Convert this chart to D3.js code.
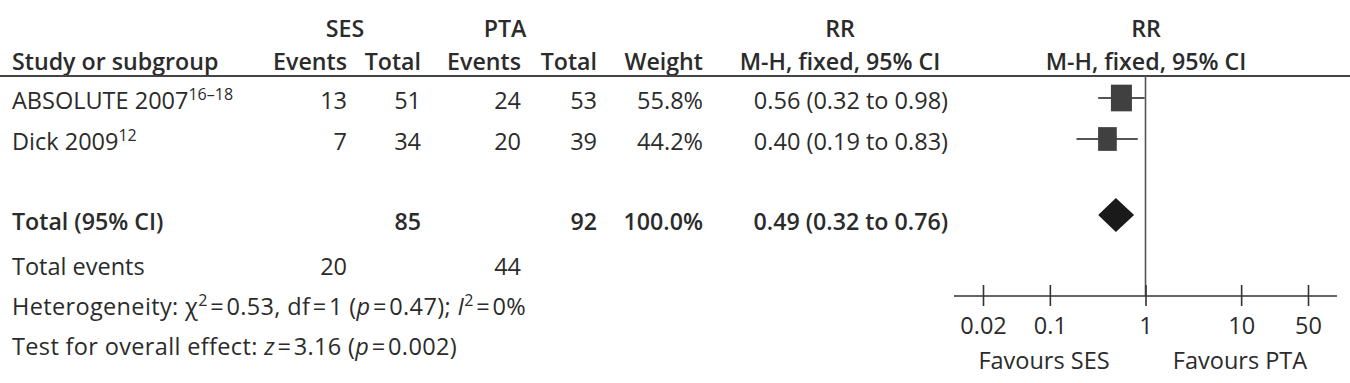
<!DOCTYPE html>
<html><head><meta charset="utf-8">
<script src="https://cdn.jsdelivr.net/npm/d3@7"></script>
<style>
html,body{margin:0;padding:0;background:#fff;}
text{font-family:"Open Sans",sans-serif;fill:#2b2b2b;}
</style></head>
<body><svg id="c" width="1350" height="383"></svg>
<script>
const studies = ["ABSOLUTE 2007", "Dick 2009"];
const refs = ["16\u201318", "12"];
const sesEvents = [13, 7];
const sesTotal = [51, 34];
const ptaEvents = [24, 20];
const ptaTotal = [53, 39];
const weights = [55.8, 44.2];
const rr = [0.56, 0.40];
const rrLo = [0.32, 0.19];
const rrHi = [0.98, 0.83];
const totalLabel = "Total (95% CI)";
const totalSes = 85, totalPta = 92, totalWeight = 100.0;
const totalRR = 0.49, totalLo = 0.32, totalHi = 0.76;
const totalEventsSes = 20, totalEventsPta = 44;
const tickValues = [0.02, 0.1, 1, 10, 50];
const tickLabels = ["0.02", "0.1", "1", "10", "50"];

const svg = d3.select("#c");
const FS = 23.5, FSB = 23.2, SUP = 16;
const x = d3.scaleLog().domain([0.02, 50]).range([983, 1308]);
const colR = {sesE: 347, sesT: 421, ptaE: 521, ptaT: 597, w: 703, rr: 948};
const rowY = [109, 150];
const totalY = 230;

function t(xp, y, s, anchor, bold) {
  return svg.append("text").attr("x", xp).attr("y", y).attr("font-size", bold ? FSB : FS)
    .attr("text-anchor", anchor || "start").attr("font-weight", bold ? 600 : 400).text(s);
}
// headers
t(345, 37, "SES", "middle", true);
t(505, 37, "PTA", "middle", true);
t(840, 37, "RR", "middle", true);
t(1146, 37, "RR", "middle", true);
t(12, 70, "Study or subgroup", "start", true);
t(colR.sesE, 70, "Events", "end", true);
t(colR.sesT, 70, "Total", "end", true);
t(colR.ptaE, 70, "Events", "end", true);
t(colR.ptaT, 70, "Total", "end", true);
t(colR.w, 70, "Weight", "end", true);
t(840, 70, "M-H, fixed, 95% CI", "middle", true);
t(1146, 70, "M-H, fixed, 95% CI", "middle", true);
svg.append("line").attr("x1", 0).attr("x2", 1350).attr("y1", 76).attr("y2", 76)
  .attr("stroke", "#444").attr("stroke-width", 2);

const f2 = d3.format(".2f");
studies.forEach((s, i) => {
  const y = rowY[i];
  const tx = t(12, y, s);
  tx.append("tspan").attr("dy", -9).attr("font-size", SUP).text(refs[i]);
  t(colR.sesE, y, sesEvents[i], "end");
  t(colR.sesT, y, sesTotal[i], "end");
  t(colR.ptaE, y, ptaEvents[i], "end");
  t(colR.ptaT, y, ptaTotal[i], "end");
  t(colR.w, y, weights[i].toFixed(1) + "%", "end");
  t(colR.rr, y, `${f2(rr[i])} (${f2(rrLo[i])} to ${f2(rrHi[i])})`, "end");
});
t(12, totalY, totalLabel, "start", true);
t(colR.sesT, totalY, totalSes, "end", true);
t(colR.ptaT, totalY, totalPta, "end", true);
t(colR.w, totalY, totalWeight.toFixed(1) + "%", "end", true);
t(colR.rr, totalY, `${f2(totalRR)} (${f2(totalLo)} to ${f2(totalHi)})`, "end", true);

t(12, 275, "Total events");
t(colR.sesE, 275, totalEventsSes, "end");
t(colR.ptaE, 275, totalEventsPta, "end");

// segments: [text, flags]  flags: i = italic, s = superscript, e = space around (equals sign)
function rich(y, segs) {
  const el = t(12, y, "").attr("letter-spacing", 0.35);
  let cur = 0, pendDx = 0;
  segs.forEach(([s, f = ""]) => {
    const want = f.includes("s") ? -9 : 0;
    const sp = el.append("tspan").text(s);
    if (want !== cur) { sp.attr("dy", want - cur); cur = want; }
    let dx = pendDx; pendDx = 0;
    if (f.includes("e")) { dx += 2.5; pendDx = 2.5; }
    if (dx) sp.attr("dx", dx);
    if (f.includes("i")) sp.attr("font-style", "italic");
    if (f.includes("s")) sp.attr("font-size", SUP);
  });
  return el;
}
rich(315, [["Heterogeneity: \u03C7"], ["2", "s"], ["=", "e"], ["0.53, df"], ["=", "e"], ["1 ("], ["p", "i"], ["=", "e"], ["0.47); "], ["I", "i"], ["2", "s"], ["=", "e"], ["0%"]]);
rich(355, [["Test for overall effect: "], ["z", "i"], ["=", "e"], ["3.16 ("], ["p", "i"], ["=", "e"], ["0.002)"]]);

// forest plot
const axisY = 296;
svg.append("line").attr("x1", x(1)).attr("x2", x(1)).attr("y1", 76).attr("y2", axisY)
  .attr("stroke", "#555").attr("stroke-width", 1.6);

const side = d3.scaleSqrt().domain([0, 55.8]).range([0, 21]);
studies.forEach((s, i) => {
  const y = rowY[i] - 11;
  svg.append("line").attr("x1", x(rrLo[i])).attr("x2", x(rrHi[i])).attr("y1", y).attr("y2", y)
    .attr("stroke", "#555").attr("stroke-width", 2);
  const w = side(weights[i]), h = w * 1.27;
  svg.append("rect").attr("x", x(rr[i]) - w / 2).attr("y", y - h / 2)
    .attr("width", w).attr("height", h).attr("fill", "#404040");
});
const dy = 215;
svg.append("path").attr("d", `M${x(totalLo)},${dy} L${x(totalRR)},${dy - 17} L${x(totalHi)},${dy} L${x(totalRR)},${dy + 17} Z`)
  .attr("fill", "#1a1a1a");

const axisG = svg.append("g").attr("transform", `translate(0,${axisY})`)
  .call(d3.axisBottom(x).tickValues(tickValues).tickFormat((d, i) => tickLabels[i]).tickSize(10));
axisG.select(".domain").remove();
axisG.selectAll(".tick line").attr("y1", -11).attr("y2", 10).attr("stroke", "#333").attr("stroke-width", 1.6);
axisG.selectAll(".tick text").attr("y", 38).attr("dy", 0).attr("font-size", FS)
  .attr("font-family", "Open Sans, sans-serif").attr("fill", "#2b2b2b");
svg.append("line").attr("x1", 954).attr("x2", 1337).attr("y1", axisY).attr("y2", axisY)
  .attr("stroke", "#333").attr("stroke-width", 1.6);
t(1044, 369, "Favours SES", "middle");
t(1240, 369, "Favours PTA", "middle");
</script></body></html>
